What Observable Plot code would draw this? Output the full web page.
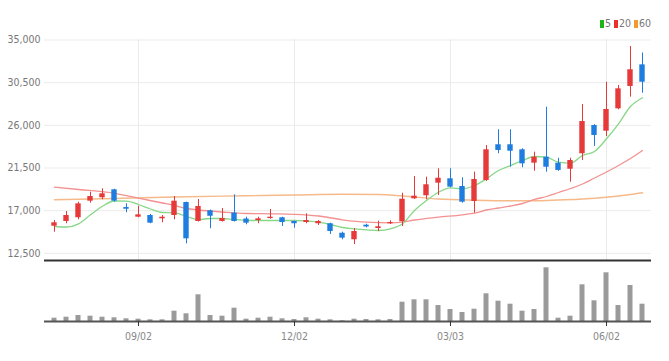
<!DOCTYPE html>
<html><head><meta charset="utf-8">
<script src="https://cdn.jsdelivr.net/npm/d3@7"></script>
<script src="https://cdn.jsdelivr.net/npm/@observablehq/plot@0.6"></script>
<style>
body{margin:0;background:#fff;}
#chart{position:relative;width:669px;height:361px;overflow:hidden;font-family:"Liberation Sans Narrow","DejaVu Sans Condensed",sans-serif;}
#chart svg{position:absolute;left:0;display:block;overflow:visible;}
#legend{position:absolute;top:17px;right:18px;font-size:10.5px;color:#777;display:flex;align-items:center;gap:3px;line-height:12px;}
#legend .sw{display:inline-block;width:4px;height:8px;margin-right:1px;vertical-align:middle;}
</style></head><body>
<div id="chart"><div id="legend"></div></div>
<script>
const dates = ["2024-07-15","2024-07-22","2024-07-29","2024-08-05","2024-08-12","2024-08-19","2024-08-26","2024-09-02","2024-09-09","2024-09-16","2024-09-23","2024-09-30","2024-10-07","2024-10-14","2024-10-21","2024-10-28","2024-11-04","2024-11-11","2024-11-18","2024-11-25","2024-12-02","2024-12-09","2024-12-16","2024-12-23","2024-12-30","2025-01-06","2025-01-13","2025-01-20","2025-01-27","2025-02-03","2025-02-10","2025-02-17","2025-02-24","2025-03-03","2025-03-10","2025-03-17","2025-03-24","2025-03-31","2025-04-07","2025-04-14","2025-04-21","2025-04-28","2025-05-05","2025-05-12","2025-05-19","2025-05-26","2025-06-02","2025-06-09","2025-06-16","2025-06-23"];
const open  = [15360,15860,16250,18000,18360,19200,17330,16310,16490,16140,16490,17860,15860,16990,15860,16750,16120,15960,16170,16250,15860,15750,15620,15620,14620,13930,15470,15120,15620,15830,18250,18570,19900,20360,19550,17970,20180,23950,23950,23420,22010,22640,22010,21370,23000,25980,25380,27740,30100,32380];
const high  = [15960,16910,17890,18950,19310,19260,17720,17470,16600,16490,18490,17900,18180,17070,17230,18670,16310,16310,17120,16310,15890,16670,15960,15680,14730,15120,15570,15890,15930,18840,20600,20530,21420,21420,20470,21060,23870,25530,25530,23530,23170,27910,22530,22530,28200,26060,30550,30200,34310,33630];
const low   = [14730,15620,16040,17790,18150,17890,16780,16250,15620,15720,16040,13500,15800,15090,15800,15800,15510,15620,16100,15330,15150,15620,15440,14490,13930,13430,15190,14800,15540,15330,18180,18150,18600,19410,17790,16730,20080,23000,21580,21520,21160,21060,21160,20000,22290,23770,24820,27640,28970,29390];
const close = [15720,16490,17720,18490,18780,18000,17150,16560,15680,16310,18000,14030,17440,16410,16170,15860,15680,16140,16310,15750,15620,15960,15860,14800,14100,14800,15280,15300,15750,18210,18530,19730,20420,19480,17890,20290,23420,23350,23270,21940,22640,21580,21240,22290,26400,24930,27670,29850,31860,30550];
const volume = [33000,43000,60000,53000,43000,37000,27000,23000,17000,17000,103000,77000,267000,60000,53000,133000,23000,33000,43000,27000,20000,37000,23000,17000,7000,23000,20000,17000,20000,193000,217000,217000,160000,120000,90000,123000,277000,203000,173000,103000,120000,537000,33000,53000,367000,207000,487000,160000,360000,173000];
const ma5 = [15330,15277,15615,16564,17471,18019,17998,17650,17176,16806,16775,16384,16068,16174,16174,16068,15984,15963,15963,15963,15963,15931,15783,15541,15224,15087,14982,14908,15087,15615,17017,18072,18947,19412,19306,19654,20361,21236,21764,22291,22713,22639,22112,22006,22818,23240,24580,26162,27986,28904];
const ma20At = [0,2,5,7,9,10,11,12,14,16,18,20,22,24,26,28,29,30,32,34,35,36,37,38,39,40,41,42,43,44,45,46,47,48,49];
const ma20 = [19475,19232,18832,18315,17808,17545,17228,17070,16859,16701,16669,16616,16437,16036,15783,15720,15783,16015,16311,16564,16733,17070,17281,17492,17756,18178,18494,18916,19338,19812,20445,21078,21764,22502,23345];
const ma60At = [0,5,10,16,20,24,27,29,32,35,38,40,42,44,46,48,49];
const ma60 = [18156,18283,18441,18568,18652,18726,18705,18547,18230,18104,18040,18040,18125,18230,18420,18705,18884];
const yTicks = [12500,17000,21500,26000,30500,35000];
const tickDates = ["2024-09-02","2024-12-02","2025-03-03","2025-06-02"];
const tickLabels = ["09/02","12/02","03/03","06/02"];
const legendNames = ["5","20","60"];
const legendColors = ["#19b519","#ee2e2e","#f09a30"];

const UP = "#e63a3a", DOWN = "#1f7de0";
const candles = dates.map((d,i)=>({date:d, open:open[i], high:high[i], low:low[i], close:close[i], volume:volume[i], ma5:ma5[i], up: close[i] >= open[i]}));
const ma20Data = ma20At.map((i,k)=>({date:dates[i], v:ma20[k]}));
const ma60Data = ma60At.map((i,k)=>({date:dates[i], v:ma60[k]}));
const labelOf = new Map(tickDates.map((d,i)=>[d,tickLabels[i]]));
const fontFam = '"Liberation Sans Narrow","DejaVu Sans Condensed",sans-serif';

const price = Plot.plot({
  width: 669, height: 262,
  marginLeft: 44, marginRight: 18, marginTop: 39, marginBottom: 2,
  style: {fontFamily: fontFam, fontSize: "10.5px", background: "transparent"},
  x: {type: "band", domain: dates, padding: 0, axis: null},
  y: {domain: [11744, 35000], range: [260, 39.5], axis: null},
  marks: [
    Plot.gridY(yTicks, {stroke: "#ebebeb", strokeOpacity: 1}),
    Plot.gridX(tickDates, {stroke: "#ebebeb", strokeOpacity: 1}),
    Plot.axisY(yTicks, {anchor: "left", tickSize: 0, tickPadding: 4, tickFormat: d3.format(","), fill: "#777", label: null}),
    Plot.line(ma60Data, {x: "date", y: "v", stroke: "#f6b98a", strokeWidth: 1.4, curve: "monotone-x"}),
    Plot.line(ma20Data, {x: "date", y: "v", stroke: "#f39191", strokeWidth: 1.3, curve: "monotone-x"}),
    Plot.line(candles, {x: "date", y: "ma5", stroke: "#86d786", strokeWidth: 1.3, curve: "monotone-x"}),
    Plot.ruleX(candles, {x: "date", y1: "low", y2: "high", stroke: d => d.up ? UP : DOWN, strokeWidth: 1}),
    Plot.barY(candles, {x: "date", y1: "open", y2: "close", fill: d => d.up ? UP : DOWN, insetLeft: 3.3, insetRight: 3.3}),
    Plot.ruleY([11744], {stroke: "#333", strokeWidth: 2})
  ]
});
price.style.top = "0px";

const vol = Plot.plot({
  width: 669, height: 99,
  marginLeft: 44, marginRight: 18, marginTop: 0, marginBottom: 40,
  style: {fontFamily: fontFam, fontSize: "10.5px", background: "transparent"},
  x: {type: "band", domain: dates, padding: 0, axis: null},
  y: {domain: [0, 590000], range: [59, 0], axis: null},
  marks: [
    Plot.barY(candles, {x: "date", y: "volume", fill: "#9a9a9a", insetLeft: 3.5, insetRight: 3.5}),
    Plot.ruleY([0], {stroke: "#555", strokeWidth: 2}),
    Plot.axisX(tickDates, {anchor: "bottom", tickSize: 5, tickPadding: 6, stroke: "#333", fill: "#888", label: null, tickFormat: d => labelOf.get(d)})
  ]
});
vol.style.top = "262px";

const chart = document.getElementById("chart");
chart.appendChild(price);
chart.appendChild(vol);

const legend = document.getElementById("legend");
legendNames.forEach((n,i)=>{
  const s = document.createElement("span");
  s.innerHTML = `<span class="sw" style="background:${legendColors[i]}"></span>${n}`;
  legend.appendChild(s);
});
</script>
</body></html>
